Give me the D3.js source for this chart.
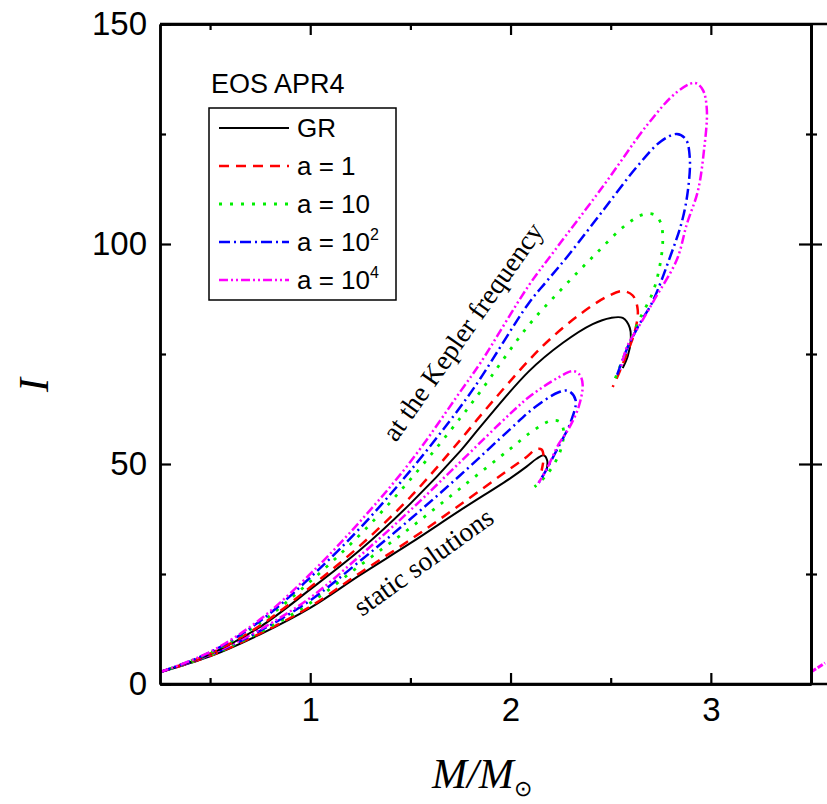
<!DOCTYPE html>
<html>
<head>
<meta charset="utf-8">
<script src="https://cdn.jsdelivr.net/npm/d3@7"></script>
<style>
  body { margin: 0; background: #fff; }
  svg { display: block; }
</style>
</head>
<body>
<div id="graphic"></div>
<script>
// values: [M/Msun, I]
const grStatic = [[0.25,2.7],[0.5,6.3],[0.75,11.3],[1.0,17.3],[1.25,24.8],[1.5,32],[1.75,39.5],[2.0,46.8],[2.08,49.4],[2.13,51.2],[2.165,52],[2.183,50.8],[2.18,48.5]]
const a1Static = [[0.25,2.7],[0.5,6.4],[0.75,11.5],[1.0,17.6],[1.25,25.3],[1.5,32.8],[1.75,40.8],[2.0,49],[2.08,51.6],[2.13,53.4],[2.155,53.3],[2.165,51.5],[2.155,48.5]]
const a10Static = [[0.25,2.7],[0.5,6.5],[0.75,11.8],[1.0,18.4],[1.25,27],[1.5,35.5],[1.75,44.5],[2.0,53.5],[2.11,57.5],[2.2,59.8],[2.245,59.6],[2.265,57.5],[2.245,52.5],[2.18,47.5],[2.12,44.8]]
const a100Static = [[0.25,2.7],[0.5,6.6],[0.75,12.1],[1.0,19],[1.25,28],[1.5,37.5],[1.75,47.5],[2.0,58],[2.11,62.5],[2.24,66.3],[2.29,66.6],[2.325,64.5],[2.3,59.5],[2.24,54],[2.18,48.8],[2.14,45.7]]
const a1e4Static = [[0.25,2.7],[0.5,6.7],[0.75,12.4],[1.0,19.6],[1.25,29.2],[1.5,39.5],[1.75,50.5],[2.0,61.5],[2.1,65.5],[2.24,69.7],[2.31,71.1],[2.345,70.3],[2.36,68],[2.34,63],[2.29,58],[2.24,54.5],[2.18,48.8],[2.14,45.7]]

const grKepler = [[0.25,2.7],[0.5,6.8],[0.75,13],[1.0,21.5],[1.25,30.5],[1.5,41],[1.75,53],[1.85,58.5],[2.09,71],[2.26,77.5],[2.41,81.8],[2.5,83.2],[2.56,83.2],[2.595,81],[2.6,78],[2.585,74.5],[2.56,71.8]]
const a1Kepler = [[0.25,2.7],[0.5,6.9],[0.75,13.3],[1.0,22],[1.25,31.5],[1.5,42.5],[1.75,55.5],[1.85,61],[2.09,73.5],[2.2,78.5],[2.34,83.8],[2.48,88],[2.56,89.3],[2.61,88.3],[2.635,85],[2.62,80],[2.58,75],[2.54,70.5],[2.51,67.5]]
const a10Kepler = [[0.25,2.7],[0.5,7.1],[0.75,13.9],[1.0,23.3],[1.25,34],[1.5,46.5],[1.75,60.5],[1.85,66.5],[2.09,81.5],[2.26,90],[2.42,97.5],[2.58,104.5],[2.67,106.8],[2.72,106.6],[2.75,104.8],[2.76,101],[2.745,95],[2.71,89],[2.64,82.5],[2.58,76],[2.51,68]]
const a100Kepler = [[0.25,2.7],[0.5,7.2],[0.75,14.3],[1.0,24.2],[1.25,35.5],[1.5,48.5],[1.75,63],[1.85,69.5],[2.09,86.5],[2.18,91.5],[2.29,97.5],[2.46,107.5],[2.63,117.5],[2.75,123.3],[2.83,125],[2.875,123.8],[2.895,119.5],[2.885,112],[2.855,105],[2.8,97.5],[2.71,87],[2.64,81.5],[2.58,76],[2.53,70]]
const a1e4Kepler = [[0.25,2.7],[0.5,7.3],[0.75,14.7],[1.0,25],[1.25,37],[1.5,50.5],[1.75,66.5],[1.85,73],[2.09,90.5],[2.22,98.5],[2.46,113],[2.69,127.5],[2.83,134.5],[2.92,136.6],[2.96,135],[2.98,130.5],[2.965,121],[2.935,112],[2.88,104.5],[2.83,96.4],[2.72,87.5],[2.65,82],[2.58,76.5],[2.55,71.5]]

// start of the neighbouring panel, just visible at the right
const nextPanelCurve = [[0.25,2.7],[0.32,4.8]]

const seriesNames = ["GR", "a = 1", "a = 10", "a = 10", "a = 10"]
const seriesPowers = ["", "", "", "2", "4"]
const staticCurves = [grStatic, a1Static, a10Static, a100Static, a1e4Static]
const keplerCurves = [grKepler, a1Kepler, a10Kepler, a100Kepler, a1e4Kepler]

const xMajor = [1, 2, 3]
const xMinor = [0.5, 1.5, 2.5]
const yMajor = [0, 50, 100, 150]
const yMinor = [25, 75, 125]

// styles
const colors = ["#000000", "#ff0000", "#00ee00", "#0000ff", "#ff00ff"]
const dashes = ["none", "10,7", "3,8", "11,4,2,4", "9,3,2,3,2,3"]
const widths = [2, 2.5, 2.8, 2.5, 2.5]

const margin = { top: 24, right: 16, bottom: 120, left: 160 }
const chartWidth = 827
const chartHeight = 804
const width = 811 - margin.left
const height = 684 - margin.top

let svg = d3.select("#graphic").append("svg")
    .attr("width", chartWidth)
    .attr("height", chartHeight)

let g = svg.append("g")
    .attr("transform", "translate(" + margin.left + "," + margin.top + ")")

let x = d3.scaleLinear().domain([0.25, 3.5]).range([0, width])
let y = d3.scaleLinear().domain([0, 150]).range([height, 0])
let xNext = d3.scaleLinear().domain([0.25, 3.5]).range([width, 2 * width])

svg.append("defs").append("clipPath").attr("id", "plot")
    .append("rect").attr("x", 0).attr("y", 0).attr("width", width).attr("height", height)

let line = d3.line()
    .x(d => x(d[0]))
    .y(d => y(d[1]))
    .curve(d3.curveCatmullRom.alpha(0.5))

let curves = g.append("g").attr("clip-path", "url(#plot)")

staticCurves.forEach(function (c, i) {
    curves.append("path")
        .datum(c)
        .attr("d", line)
        .attr("fill", "none")
        .attr("stroke", colors[i])
        .attr("stroke-width", widths[i])
        .attr("stroke-dasharray", dashes[i])
})
keplerCurves.forEach(function (c, i) {
    curves.append("path")
        .datum(c)
        .attr("d", line)
        .attr("fill", "none")
        .attr("stroke", colors[i])
        .attr("stroke-width", widths[i])
        .attr("stroke-dasharray", dashes[i])
})

g.append("path")
    .datum(nextPanelCurve)
    .attr("d", d3.line().x(d => xNext(d[0])).y(d => y(d[1])))
    .attr("fill", "none")
    .attr("stroke", "#ff00ff")
    .attr("stroke-width", 3)
    .attr("stroke-dasharray", "6,2")

// axes, ticks inward
function styleAxis(sel) {
    sel.selectAll(".domain").attr("stroke-width", 2.5)
    sel.selectAll(".tick line").attr("stroke-width", 2.2)
    sel.selectAll("text")
        .attr("font-family", "'Liberation Sans', Arial, sans-serif")
        .attr("font-size", 33)
        .attr("fill", "#000")
}

g.append("g").attr("transform", "translate(0," + height + ")")
    .call(d3.axisBottom(x).tickValues(xMajor).tickFormat(d3.format("d")).tickSize(-11).tickSizeOuter(0).tickPadding(14))
    .call(styleAxis)
g.append("g").attr("transform", "translate(0," + height + ")")
    .call(d3.axisBottom(x).tickValues(xMinor).tickFormat("").tickSize(-6).tickSizeOuter(0))
    .call(styleAxis)

g.append("g")
    .call(d3.axisTop(x).tickValues(xMajor).tickFormat("").tickSize(-11).tickSizeOuter(0))
    .call(styleAxis)
g.append("g")
    .call(d3.axisTop(x).tickValues(xMinor).tickFormat("").tickSize(-6).tickSizeOuter(0))
    .call(styleAxis)

g.append("g")
    .call(d3.axisLeft(y).tickValues(yMajor).tickFormat(d3.format("d")).tickSize(-11).tickSizeOuter(0).tickPadding(13))
    .call(styleAxis)
g.append("g")
    .call(d3.axisLeft(y).tickValues(yMinor).tickFormat("").tickSize(-6).tickSizeOuter(0))
    .call(styleAxis)

// right side: shared with the next panel, ticks on both sides
g.append("g").attr("transform", "translate(" + width + ",0)")
    .call(d3.axisRight(y).tickValues(yMajor.slice(1, 3)).tickFormat("").tickSize(-12).tickSizeOuter(0))
    .call(styleAxis)
g.append("g").attr("transform", "translate(" + width + ",0)")
    .call(d3.axisRight(y).tickValues(yMajor.slice(1, 3)).tickFormat("").tickSize(11).tickSizeOuter(0))
    .call(styleAxis)
g.append("g").attr("transform", "translate(" + width + ",0)")
    .call(d3.axisRight(y).tickValues(yMinor).tickFormat("").tickSize(-5).tickSizeOuter(0))
    .call(styleAxis)
g.append("g").attr("transform", "translate(" + width + ",0)")
    .call(d3.axisRight(y).tickValues(yMinor).tickFormat("").tickSize(6).tickSizeOuter(0))
    .call(styleAxis)

// top and bottom frame lines continue into the next panel
g.append("line").attr("x1", 0).attr("x2", chartWidth).attr("y1", 0).attr("y2", 0)
    .attr("stroke", "#000").attr("stroke-width", 2.5)
g.append("line").attr("x1", 0).attr("x2", chartWidth).attr("y1", height).attr("y2", height)
    .attr("stroke", "#000").attr("stroke-width", 2.5)

// axis titles
svg.append("text")
    .attr("transform", "translate(48,385) rotate(-90)")
    .attr("text-anchor", "middle")
    .attr("font-family", "'Liberation Serif', 'Times New Roman', serif")
    .attr("font-style", "italic")
    .attr("font-size", 42)
    .text("I")

let xt = svg.append("text")
    .attr("x", 432)
    .attr("y", 788)
    .attr("font-family", "'Liberation Serif', 'Times New Roman', serif")
    .attr("font-style", "italic")
    .attr("font-size", 42)
xt.append("tspan").text("M/M")
xt.append("tspan").attr("dy", 8).attr("font-size", 22).attr("font-style", "normal").text("\u2299")

// curve annotations
svg.append("text")
    .attr("transform", "translate(396,443) rotate(-55)")
    .attr("font-family", "'Liberation Serif', 'Times New Roman', serif")
    .attr("font-size", 27.5)
    .text("at the Kepler frequency")

svg.append("text")
    .attr("transform", "translate(362,617) rotate(-35.5)")
    .attr("font-family", "'Liberation Serif', 'Times New Roman', serif")
    .attr("font-size", 27.5)
    .text("static solutions")

// legend
svg.append("text")
    .attr("x", 211)
    .attr("y", 93)
    .attr("font-family", "'Liberation Sans', Arial, sans-serif")
    .attr("font-size", 27)
    .text("EOS APR4")

svg.append("rect")
    .attr("x", 209).attr("y", 108)
    .attr("width", 187).attr("height", 192)
    .attr("fill", "none")
    .attr("stroke", "#000")
    .attr("stroke-width", 1.5)

let legendY = d3.scalePoint().domain(d3.range(seriesNames.length)).range([128, 280])

let items = svg.selectAll(null)
    .data(seriesNames)
    .enter().append("g")
    .attr("transform", (d, i) => "translate(0," + legendY(i) + ")")

items.append("line")
    .attr("x1", 219).attr("x2", 289)
    .attr("stroke", (d, i) => colors[i])
    .attr("stroke-width", (d, i) => widths[i])
    .attr("stroke-dasharray", (d, i) => dashes[i])

let labels = items.append("text")
    .attr("x", 297)
    .attr("y", 9)
    .attr("font-family", "'Liberation Sans', Arial, sans-serif")
    .attr("font-size", 26)
labels.append("tspan").text(d => d)
labels.append("tspan")
    .attr("dy", -11)
    .attr("font-size", 16)
    .text((d, i) => seriesPowers[i])
</script>
</body>
</html>
